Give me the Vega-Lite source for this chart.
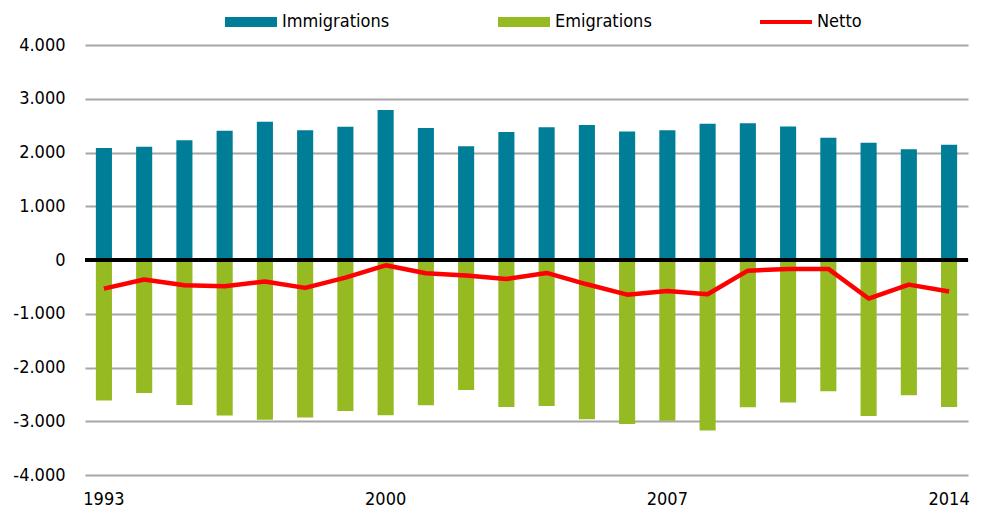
{
  "$schema": "https://vega.github.io/schema/vega-lite/v6.json",
  "width": 883,
  "height": 430,
  "autosize": {"type": "none"},
  "padding": {"left": 85, "top": 45, "right": 14, "bottom": 41},
  "config": {
    "view": {"stroke": null},
    "font": "'DejaVu Sans Condensed', Roboto, sans-serif",
    "axis": {"labelFont": "'DejaVu Sans Condensed', Roboto, sans-serif", "labelColor": "#000000", "labelFontSize": 18},
    "legend": {"labelFont": "'DejaVu Sans Condensed', Roboto, sans-serif", "labelColor": "#000000", "labelFontSize": 18}
  },
  "data": {
    "values": [
      {"year": "1993", "Immigrations": 2083, "Emigrations": -2615, "Netto": -532},
      {"year": "1994", "Immigrations": 2109, "Emigrations": -2473, "Netto": -364},
      {"year": "1995", "Immigrations": 2226, "Emigrations": -2696, "Netto": -470},
      {"year": "1996", "Immigrations": 2406, "Emigrations": -2894, "Netto": -488},
      {"year": "1997", "Immigrations": 2573, "Emigrations": -2974, "Netto": -401},
      {"year": "1998", "Immigrations": 2412, "Emigrations": -2931, "Netto": -519},
      {"year": "1999", "Immigrations": 2480, "Emigrations": -2807, "Netto": -327},
      {"year": "2000", "Immigrations": 2789, "Emigrations": -2888, "Netto": -99},
      {"year": "2001", "Immigrations": 2455, "Emigrations": -2702, "Netto": -247},
      {"year": "2002", "Immigrations": 2115, "Emigrations": -2417, "Netto": -290},
      {"year": "2003", "Immigrations": 2381, "Emigrations": -2733, "Netto": -352},
      {"year": "2004", "Immigrations": 2468, "Emigrations": -2714, "Netto": -240},
      {"year": "2005", "Immigrations": 2511, "Emigrations": -2963, "Netto": -452},
      {"year": "2006", "Immigrations": 2393, "Emigrations": -3049, "Netto": -645},
      {"year": "2007", "Immigrations": 2412, "Emigrations": -2993, "Netto": -575},
      {"year": "2008", "Immigrations": 2535, "Emigrations": -3173, "Netto": -638},
      {"year": "2009", "Immigrations": 2542, "Emigrations": -2740, "Netto": -198},
      {"year": "2010", "Immigrations": 2486, "Emigrations": -2652, "Netto": -166},
      {"year": "2011", "Immigrations": 2276, "Emigrations": -2442, "Netto": -166},
      {"year": "2012", "Immigrations": 2183, "Emigrations": -2900, "Netto": -717},
      {"year": "2013", "Immigrations": 2059, "Emigrations": -2517, "Netto": -458},
      {"year": "2014", "Immigrations": 2146, "Emigrations": -2733, "Netto": -587}
    ]
  },
  "layer": [
    {
      "transform": [{"fold": ["Immigrations", "Emigrations"], "as": ["series", "value"]}],
      "mark": {"type": "bar"},
      "encoding": {
        "x": {
          "field": "year", "type": "ordinal",
          "scale": {"paddingInner": 0.6, "paddingOuter": 0.27},
          "axis": {"values": ["1993", "2000", "2007", "2014"], "labelAngle": 0, "ticks": false, "domain": false, "grid": false, "labelPadding": 15, "title": null}
        },
        "y": {
          "field": "value", "type": "quantitative", "stack": null,
          "scale": {"domain": [-4000, 4000], "nice": false},
          "axis": {
            "values": [-4000, -3000, -2000, -1000, 0, 1000, 2000, 3000, 4000],
            "labelExpr": "(datum.value < 0 ? '-' : '') + replace(format(abs(datum.value), ',d'), ',', '.')",
            "ticks": false, "domain": false, "grid": true, "gridColor": "#A6A6A6", "gridWidth": 2,
            "labelPadding": 20, "title": null
          }
        },
        "color": {
          "field": "series", "type": "nominal",
          "scale": {"domain": ["Immigrations", "Emigrations", "Netto"], "range": ["#007E98", "#95BA22", "#FF0000"]},
          "legend": {
            "title": null, "orient": "none", "legendX": 140, "legendY": -49,
            "direction": "horizontal", "columnPadding": 108, "labelOffset": 5,
            "symbolSize": 2704,
            "encode": {
              "symbols": {
                "update": {
                  "shape": {"signal": "datum.label === 'Netto' ? 'M-1,-0.08H1V0.08H-1Z' : 'M-1,-0.19H1V0.19H-1Z'"},
                  "fill": {"scale": "color", "field": "value"},
                  "strokeWidth": {"value": 0},
                  "opacity": {"value": 1}
                }
              }
            }
          }
        }
      }
    },
    {
      "mark": {"type": "rule", "color": "#000000", "strokeWidth": 2.5},
      "encoding": {"y": {"datum": 0}}
    },
    {
      "mark": {"type": "line", "strokeWidth": 4.5, "strokeJoin": "round"},
      "encoding": {
        "x": {"field": "year", "type": "ordinal"},
        "y": {"field": "Netto", "type": "quantitative"},
        "color": {"datum": "Netto"}
      }
    }
  ]
}
